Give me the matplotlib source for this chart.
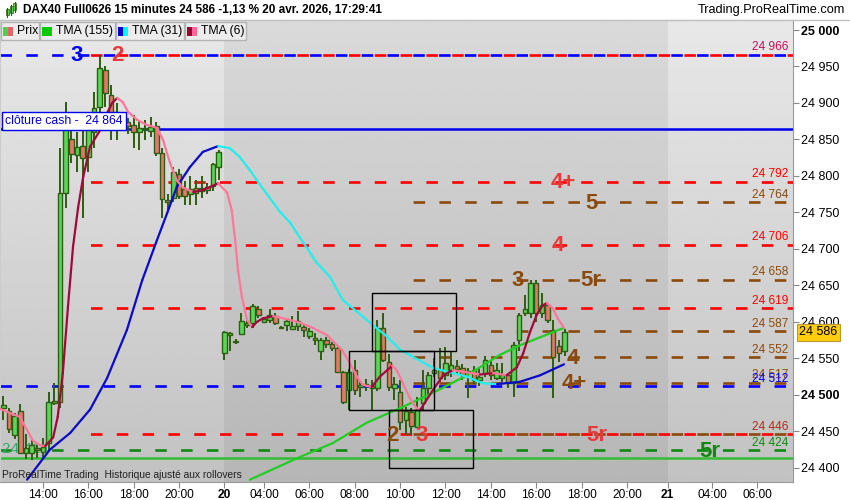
import numpy as np
import matplotlib
matplotlib.use("Agg")
import matplotlib.pyplot as plt
import matplotlib.transforms as mtransforms
from matplotlib.patches import Rectangle
from matplotlib.lines import Line2D
from matplotlib.collections import LineCollection

plt.rcParams['font.family'] = ['Liberation Sans', 'DejaVu Sans']
plt.rcParams['lines.scale_dashes'] = False

# --- barres 15 minutes (index 0 = 12:15 la veille) ---
opens = [24482, 24478, 24445, 24478, 24420, 24420, 24428, 24422, 24434, 24489,
         24490, 24777, 24851, 24829, 24841, 24826, 24860, 24894, 24945, 24911,
         24888, 24873, 24874, 24870, 24860, 24866, 24862, 24868, 24832, 24767,
         24770, 24803, 24782, 24776, 24783, 24779, 24785, 24786, 24813, 24557,
         24582, 24574, 24583, 24596, 24598, 24618, 24600, 24603, 24608, 24593,
         24596, 24590, 24594, 24593, 24581, 24576, 24560, 24576, 24570, 24564,
         24532, 24507, 24534, 24511, 24513, 24512, 24510, 24592, 24545, 24510,
         24504, 24466, 24477, 24456, 24489, 24510, 24530, 24534, 24527, 24534,
         24540, 24537, 24530, 24534, 24521, 24530, 24541, 24523, 24523, 24527,
         24516, 24575, 24612, 24612, 24653, 24612, 24623, 24589, 24567, 24560]
highs = [24498, 24482, 24475, 24488, 24446, 24438, 24432, 24441, 24504, 24516,
         24838, 24901, 24863, 24860, 24866, 24880, 24915, 24966, 24950, 24925,
         24900, 24882, 24880, 24884, 24877, 24877, 24881, 24874, 24838, 24775,
         24812, 24810, 24793, 24800, 24794, 24800, 24790, 24818, 24836, 24588,
         24586, 24577, 24612, 24603, 24624, 24622, 24607, 24618, 24612, 24594,
         24606, 24608, 24615, 24597, 24592, 24585, 24578, 24580, 24572, 24566,
         24533, 24535, 24548, 24521, 24522, 24521, 24603, 24612, 24556, 24525,
         24520, 24484, 24482, 24497, 24534, 24532, 24550, 24565, 24566, 24560,
         24548, 24543, 24537, 24540, 24537, 24553, 24548, 24544, 24544, 24530,
         24572, 24613, 24637, 24657, 24657, 24640, 24626, 24603, 24575, 24590]
lows = [24466, 24448, 24440, 24419, 24412, 24411, 24413, 24414, 24425, 24486,
        24482, 24756, 24818, 24805, 24742, 24805, 24838, 24872, 24895, 24849,
        24849, 24862, 24858, 24838, 24835, 24849, 24853, 24828, 24742, 24752,
        24764, 24768, 24760, 24760, 24760, 24770, 24776, 24780, 24795, 24548,
        24560, 24570, 24582, 24592, 24592, 24605, 24598, 24598, 24596, 24591,
        24588, 24590, 24588, 24580, 24577, 24568, 24548, 24565, 24560, 24530,
        24488, 24480, 24500, 24497, 24505, 24480, 24505, 24545, 24505, 24493,
        24452, 24445, 24445, 24455, 24480, 24500, 24525, 24518, 24521, 24525,
        24528, 24520, 24496, 24515, 24512, 24525, 24520, 24520, 24518, 24510,
        24497, 24560, 24608, 24605, 24600, 24605, 24598, 24496, 24545, 24553]
closes = [24486, 24453, 24471, 24421, 24428, 24432, 24425, 24429, 24490, 24492,
          24777, 24866, 24830, 24840, 24825, 24867, 24893, 24948, 24914, 24886,
          24874, 24871, 24868, 24860, 24866, 24864, 24867, 24832, 24768, 24765,
          24805, 24772, 24772, 24782, 24777, 24784, 24781, 24816, 24833, 24586,
          24585, 24573, 24601, 24598, 24622, 24610, 24604, 24610, 24599, 24592,
          24602, 24594, 24602, 24589, 24588, 24578, 24576, 24570, 24565, 24532,
          24491, 24532, 24507, 24513, 24515, 24509, 24592, 24548, 24511, 24515,
          24463, 24478, 24458, 24480, 24509, 24527, 24534, 24523, 24544, 24541,
          24535, 24527, 24533, 24521, 24525, 24548, 24527, 24534, 24527, 24516,
          24568, 24610, 24618, 24653, 24612, 24623, 24603, 24552, 24558, 24586]

# --- moyennes ---
tma6_x = [-0.6, 2.9, 5.2, 6.5, 7.4, 8.8, 9.6, 10.5, 11.4, 12.3, 13.2, 14.1, 15.3, 17.1,
          18.3, 19.2, 20.1, 21.1, 22.0, 23.6, 25.3, 27.1, 28.2, 29.4, 30.6, 31.7, 33.5,
          35.2, 36.5, 37.9, 39.5, 40.3, 40.9, 41.4, 42.1, 43.0, 43.9, 44.7, 45.8, 47.6,
          50.0, 52.3, 54.6, 57.1, 58.9, 59.7, 61.1, 62.4, 63.4, 65.0, 66.4, 68.6, 69.4,
          70.5, 71.7, 72.9, 73.5, 75.8, 77.6, 79.3, 81.8, 84.1, 86.4, 88.8, 90.6, 91.7,
          92.9, 94.1, 95.2, 95.9, 96.9, 97.8, 98.9]
tma6_y = [24481, 24470, 24438, 24431, 24430, 24442, 24470, 24530, 24620, 24703, 24757,
          24799, 24840, 24863, 24886, 24900, 24907, 24901, 24888, 24877, 24870, 24866,
          24849, 24818, 24794, 24784, 24778, 24781, 24785, 24790, 24777, 24753, 24712,
          24671, 24634, 24603, 24593, 24600, 24605, 24608, 24604, 24599, 24592, 24582,
          24568, 24562, 24544, 24525, 24514, 24511, 24525, 24540, 24534, 24516, 24496,
          24482, 24479, 24507, 24527, 24534, 24531, 24528, 24530, 24527, 24538, 24557,
          24586, 24610, 24623, 24626, 24619, 24605, 24592]

tma31_x = [4.2, 8.2, 11.8, 15.3, 18.3, 21.8, 24.5, 27.1, 28.9, 30.6, 32.9, 35.2, 37.9,
           40.0, 41.7, 43.5, 45.3, 47.0, 48.8, 50.6, 52.3, 53.6, 55.3, 57.6, 59.9, 62.4,
           64.7, 67.7, 70.0, 75.8, 79.3, 81.8, 84.6, 87.1, 91.1, 94.7, 98.9]
tma31_y = [24384, 24425, 24448, 24480, 24523, 24589, 24657, 24712, 24749, 24785, 24812,
           24833, 24841, 24838, 24826, 24808, 24788, 24770, 24751, 24736, 24716, 24701,
           24681, 24662, 24630, 24614, 24599, 24580, 24562, 24537, 24530, 24525, 24516,
           24515, 24518, 24527, 24542]

tma155_x = [43.5, 52.3, 58.1, 64.1, 70.0, 75.8, 81.8, 87.6, 91.1, 98.9]
tma155_y = [24384, 24415, 24434, 24462, 24482, 24503, 24527, 24555, 24568, 24592]

# --- niveaux horizontaux ---
red_levels = [24966, 24792, 24706, 24619, 24446]
brown_levels = [24764, 24658, 24587, 24552, 24517, 24446]
blue_levels = [24966, 24512]
green_levels = [24424]
cash_close = 24864
green_solid = 24414
last_price = 24586

label_prices = [24966, 24792, 24764, 24706, 24658, 24619, 24587, 24552, 24517, 24512, 24446, 24424]
tag_texts = ['3', '2', '4+', '5', '4', '3', '5r', '4', '4+', '2', '3', '5r', '5r']
tag_levels = [24966, 24966, 24792, 24764, 24706, 24658, 24658, 24552, 24517, 24446, 24446, 24446, 24424]

box_x0 = [65.0, 61.0, 68.0]
box_x1 = [79.8, 76.0, 82.8]
box_lo = [24560, 24480, 24400]
box_hi = [24640, 24560, 24480]

tick_pos = [7, 15, 23, 31, 39, 46, 54, 62, 70, 78, 86, 94, 102, 110, 117.2, 125, 133]
tick_lab = ['14:00', '16:00', '18:00', '20:00', '20', '04:00', '06:00', '08:00', '10:00',
            '12:00', '14:00', '16:00', '18:00', '20:00', '21', '04:00', '06:00']

RED, RED2, BROWN, BLUE, GREEN = '#ff0000', '#e8383a', '#8b4a0c', '#0000ff', '#118811'
CANDLE_EDGE = '#2e5e10'


def fmt(v):
    return f"{v:,.0f}".replace(",", " ")


fig = plt.figure(figsize=(8.5, 5), dpi=100, facecolor='white')
ax = fig.add_axes([0, 18 / 500, 793 / 850, 462 / 500])
x0, x1 = -0.58, 139.3
y0, y1 = 24380.8, 25013.7
ax.set_xlim(x0, x1)
ax.set_ylim(y0, y1)
px_per_bar = 793 / (x1 - x0)

# fond en degrade + journee du 20 plus sombre
grad = np.linspace(0.91, 0.76, 256).reshape(-1, 1)
ax.imshow(grad, cmap='gray', vmin=0, vmax=1, aspect='auto',
          extent=[x0, x1, y0, y1], origin='upper', zorder=0)
ax.axvspan(38.9, 117.2, color='black', alpha=0.06, lw=0, zorder=0.5)

# niveaux en pointilles
P = 25.8  # periode des tirets en px


def dashed(y, xs, color, shift):
    off = (((xs - x0) * px_per_bar - shift) % P) * 0.72
    ax.hlines(y, xs, x1, colors=color, lw=1.9, zorder=2,
              linestyles=[(off, (11.5 * 0.72, 14.3 * 0.72))])


for y in blue_levels:
    dashed(y, x0, BLUE, 0)
for y in green_levels:
    dashed(y, x0, GREEN, 0)
for y in brown_levels:
    dashed(y, 70.8, BROWN, 0)
for y in red_levels:
    dashed(y, 15.1, RED, 13)

ax.axhline(cash_close, color='#0000ee', lw=1.8, zorder=2)
ax.axhline(green_solid, color='#33bb33', lw=1.8, zorder=2)
ax.text(-0.3, green_solid + 12, fmt(green_solid), color='#3aa870', fontsize=11,
        va='center', ha='left', zorder=2.5)

# rectangles
for a, b, lo, hi in zip(box_x0, box_x1, box_lo, box_hi):
    ax.add_patch(Rectangle((a, lo), b - a, hi - lo, fill=False, ec='black', lw=1, zorder=6))

# moyennes
ax.plot(tma155_x, tma155_y, color='#22cc22', lw=1.6, zorder=5, solid_capstyle='round')


def two_tone(xs, ys, rise, fall):
    pts = np.column_stack([xs, ys])
    segs = np.stack([pts[:-1], pts[1:]], axis=1)
    cols = [rise if d >= 0 else fall for d in np.diff(ys)]
    ax.add_collection(LineCollection(segs, colors=cols, linewidths=1.6,
                                     capstyle='round', joinstyle='round', zorder=5))


two_tone(tma31_x, tma31_y, '#0a0ac8', '#22eeee')

# bougies
o, h, l, c = map(np.array, (opens, highs, lows, closes))
xb = np.arange(len(o))
up = c >= o
ax.vlines(xb, l, h, color=CANDLE_EDGE, lw=1.4, zorder=3)
ax.bar(xb, np.maximum(np.abs(c - o), 1.5), 0.8, np.minimum(o, c),
       color=np.where(up, '#5bd65b', '#e6786b'), edgecolor=CANDLE_EDGE, linewidth=1.0, zorder=4)

two_tone(tma6_x, tma6_y, '#a0083c', '#ff7799')

# etiquettes a droite
label_colors = ['#c8105a', RED, BROWN, RED, BROWN, RED, BROWN, BROWN, BROWN, BLUE, '#b02a1a', GREEN]
rt = mtransforms.blended_transform_factory(ax.transAxes, ax.transData)
for p, col in zip(label_prices, label_colors):
    ax.text(0.994, p + 6, fmt(p), color=col, fontsize=8.6, ha='right', va='baseline',
            transform=rt, zorder=7)

tag_x = [13.0, 20.1, 98.7, 103.7, 97.8, 90.8, 103.7, 100.5, 100.8, 68.7, 73.8, 104.7, 124.6]
tag_cols = [BLUE, RED2, RED2, BROWN, RED2, BROWN, BROWN, BROWN, BROWN, BROWN, RED2, RED2, GREEN]
for t, xx, yy, col in zip(tag_texts, tag_x, tag_levels, tag_cols):
    ax.text(xx, yy + 2, t, color=col, fontsize=16, fontweight='bold', ha='center',
            va='center_baseline', zorder=7)

# cloture cash
ax.text(0.3, cash_close + 11, 'clôture cash -  ' + fmt(cash_close), color='#0000cc',
        fontsize=8.8, va='center', ha='left', zorder=8,
        bbox=dict(boxstyle='square,pad=0.25', fc='white', ec='#0000ee', lw=1))

ax.text(0.003, 0.016, 'ProRealTime Trading  Historique ajusté aux rollovers',
        transform=ax.transAxes, fontsize=7.4, color='#222222', va='center', zorder=8)

# axes
ax.yaxis.tick_right()
yt = np.arange(24400, 25001, 50)
ax.set_yticks(yt)
ax.set_yticklabels([fmt(v) for v in yt])
for lab, v in zip(ax.get_yticklabels(), yt):
    if v % 500 == 0:
        lab.set_fontweight('bold')
ax.set_xticks(tick_pos)
ax.set_xticklabels(tick_lab)
for lab in ax.get_xticklabels():
    if len(lab.get_text()) == 2:
        lab.set_fontweight('bold')
ax.tick_params(axis='y', length=4, color='#888888', labelsize=9, pad=2)
ax.tick_params(axis='x', length=4, color='#888888', labelsize=8.6, pad=1)
for side in ('top', 'left'):
    ax.spines[side].set_color('#cccccc')
for side in ('right', 'bottom'):
    ax.spines[side].set_color('#999999')

ax.text(1.008, last_price, fmt(last_price), transform=rt, fontsize=9, va='center', ha='left',
        zorder=9, clip_on=False,
        bbox=dict(boxstyle='square,pad=0.2', fc='#ffcc10', ec='#b89a30', lw=0.8))


# en-tete
def fx(px):
    return px / 850


def fy(py):
    return 1 - py / 500


fig.text(fx(23), fy(10), f'DAX40 Full0626 15 minutes {fmt(last_price)} -1,13 % 20 avr. 2026, 17:29:41',
         fontsize=8.5, fontweight='bold', va='center')
fig.text(fx(845), fy(10), 'Trading.ProRealTime.com', fontsize=9.2, va='center', ha='right')
fig.add_artist(Line2D([0, 1], [fy(20), fy(20)], transform=fig.transFigure, color='#c0c0c0', lw=1))
for cx, lo_, hi_ in ((7, 15, 9), (11, 13, 6), (15, 10, 3)):
    fig.add_artist(Line2D([fx(cx), fx(cx)], [fy(lo_ + 2), fy(hi_ - 1)], transform=fig.transFigure,
                          color=CANDLE_EDGE, lw=0.8))
    fig.add_artist(Rectangle((fx(cx - 1.5), fy(lo_)), fx(3), fy(hi_) - fy(lo_), transform=fig.transFigure,
                             fc='#5bd65b', ec=CANDLE_EDGE, lw=0.5))

legend_boxes = [(1, 39, 'Prix', ('#55cc55', '#e06666')),
                (40, 115, 'TMA (155)', ('#00cc00', '#00cc00')),
                (116, 184, 'TMA (31)', ('#0000cc', '#00ffff')),
                (185, 246, 'TMA (6)', ('#990033', '#ff6699'))]
for a, b, name, (c1, c2) in legend_boxes:
    fig.add_artist(Rectangle((fx(a), fy(40)), fx(b - a), fy(22) - fy(40), transform=fig.transFigure,
                             fc='#ececec', ec='#b4b4b4', lw=1))
    fig.add_artist(Rectangle((fx(a + 2), fy(36)), fx(5), fy(27) - fy(36), transform=fig.transFigure,
                             fc=c1, ec='none'))
    fig.add_artist(Rectangle((fx(a + 7), fy(36)), fx(5), fy(27) - fy(36), transform=fig.transFigure,
                             fc=c2, ec='none'))
    fig.text(fx(a + 16), fy(31), name, fontsize=8.8, va='center')

fig.savefig('out.png', dpi=100)
